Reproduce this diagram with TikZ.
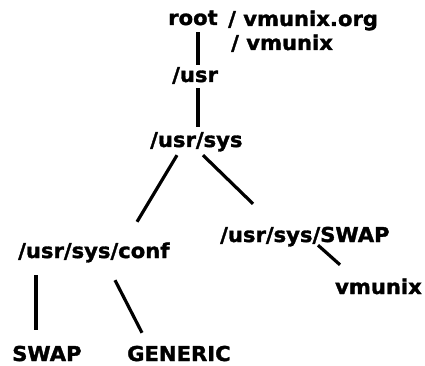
\documentclass[tikz,border=0pt]{standalone}
\usepackage{fontspec}
\setmainfont{DejaVu Sans}[BoldFeatures={FakeStretch=1.03,FakeBold=1.6}]
\usepackage{tikz}
\usetikzlibrary{calc}
\tikzset{
  dir/.style={anchor=base west,inner sep=0pt,text height=14pt,text depth=2pt,
    font=\fontsize{20.5}{24}\bfseries},
  link/.style={line width=3.2pt}
}

\begin{document}
\begin{tikzpicture}[x=1pt,y=-1pt]
  \useasboundingbox (0,0) rectangle (425,366);
  % directory names
  \node[dir] (root) at (168,25) {root};
  \node[dir] (org) at (228,26) {/ vmunix.org};
  \node[dir] (vm) at (231,50) {/ vmunix};
  \node[dir] (usr) at (172,82) {/usr};
  \node[dir] (sys) at (150,147) {/usr/sys};
  \node[dir] (swapdir) at (220,242) {/usr/sys/SWAP};
  \node[dir] (conf) at (18,258) {/usr/sys/conf};
  \node[dir,anchor=base east] (kern) at (422,294) {vmunix};
  \node[dir] (swap) at (12,361) {SWAP};
  \node[dir] (generic) at (127,361) {GENERIC};
  % tree lines
  \draw[link] ([shift={(30,5)}]root.south west) -- ([shift={(26,-3)}]usr.north west);
  \draw[link] ([shift={(26,4)}]usr.south west) -- ([shift={(48,-6)}]sys.north west);
  \draw[link] ([shift={(27,6)}]sys.south west) -- ([shift={(119,-22)}]conf.north west);
  \draw[link] ([shift={(53,6)}]sys.south west) -- ([shift={(33,-24)}]swapdir.north west);
  \draw[link] ([shift={(98,1)}]swapdir.south west) -- ([shift={(-82,-15)}]kern.north east);
  \draw[link] ([shift={(18,15)}]conf.south west) -- ([shift={(24,-17)}]swap.north west);
  \draw[link] ([shift={(97,20)}]conf.south west) -- ([shift={(15,-14)}]generic.north west);
\end{tikzpicture}
\end{document}
